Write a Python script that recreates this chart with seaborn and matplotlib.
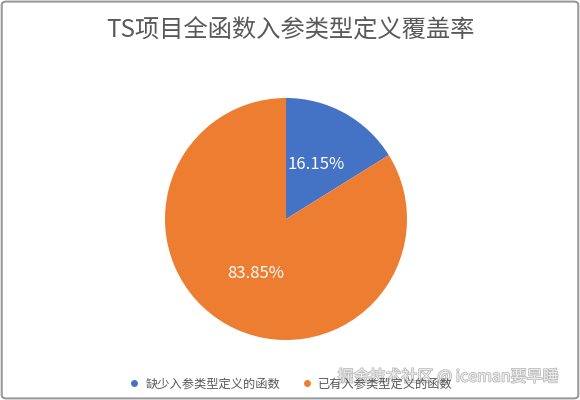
import matplotlib.pyplot as plt
import matplotlib.patheffects as pe
import seaborn as sns
from matplotlib.lines import Line2D
from matplotlib.patches import FancyBboxPatch

# data
labels = ['缺少入参类型定义的函数', '已有入参类型定义的函数']
shares = [16.15, 83.85]
colors = ['#4472C4', '#ED7D31']

sns.set_theme(style='white')
plt.rcParams['font.family'] = ['Noto Sans CJK SC', 'DejaVu Sans']

fig = plt.figure(figsize=(5.8, 4), dpi=100)
ax = fig.add_axes([(286 - 121) / 580, 1 - (219 + 121) / 400, 242 / 580, 242 / 400])

wedges, texts, autotexts = ax.pie(shares, colors=colors, startangle=90, counterclock=False,
                                  autopct='%.2f%%', pctdistance=0.52,
                                  wedgeprops={'linewidth': 0},
                                  textprops={'color': 'white', 'fontsize': 12})
ax.set_xlim(-1, 1)
ax.set_ylim(-1, 1)
ax.set_aspect('equal')

fig.text(0.5, 1 - 31 / 400, 'TS项目全函数入参类型定义覆盖率', ha='center', va='center',
         fontsize=17.5, color='#595959')

handles = [Line2D([], [], marker='o', linestyle='', markersize=5, markerfacecolor=c,
                  markeredgewidth=0) for c in colors]
fig.legend(handles, labels, loc='center', bbox_to_anchor=(292 / 580, 1 - 384 / 400), ncol=2,
           frameon=False, fontsize=8.8, handlelength=0.5, handletextpad=0.7,
           columnspacing=1.9, labelcolor='#595959')

# watermark
fig.text(1 - 21 / 580, 1 - 377 / 400, '掘金技术社区 @ iceman要早睡', ha='right', va='center',
         fontsize=11.5, color='#f4f4f4', alpha=0.9,
         path_effects=[pe.withStroke(linewidth=1.1, foreground='#b0b0b0')])

# grey frame round the image
fig.patches.append(FancyBboxPatch((0.003, 0.004), 0.994, 0.992, boxstyle='round,pad=0,rounding_size=0.008',
                                  transform=fig.transFigure, fill=False, edgecolor='#9a9a9a', linewidth=1.5))

fig.savefig('out.png', dpi=100)
